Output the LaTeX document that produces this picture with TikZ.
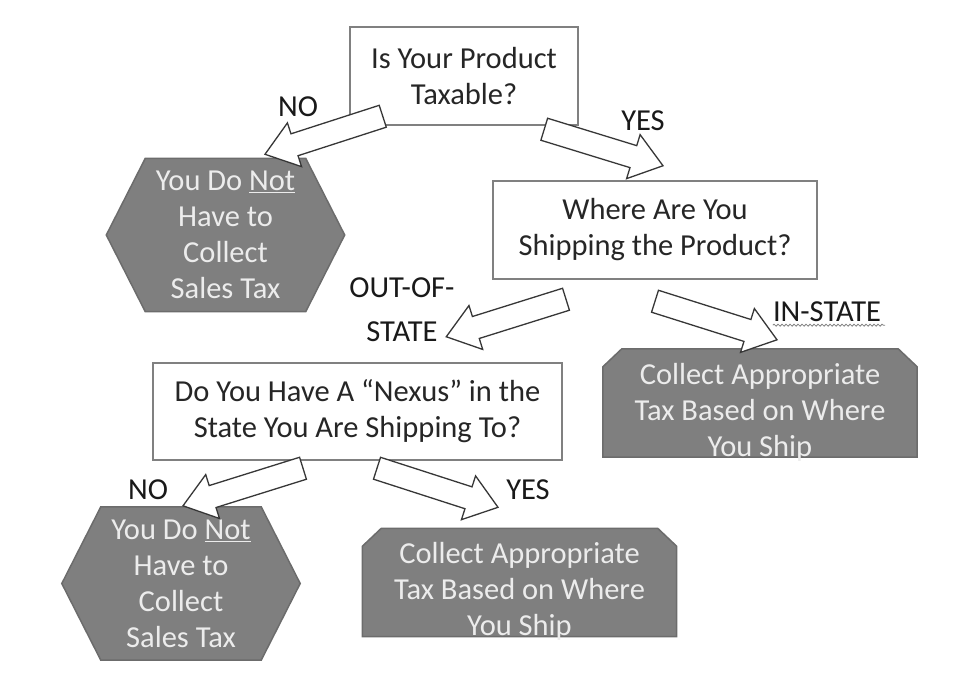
\documentclass[tikz,border=0pt]{standalone}
\usepackage{fontspec}
\setmainfont{Carlito}
\usepackage{tikz}
\usetikzlibrary{positioning,calc,backgrounds,decorations.pathmorphing}
\definecolor{grisborde}{RGB}{128,128,128}
\definecolor{grisrelleno}{RGB}{127,127,127}
\definecolor{grisoscuro}{RGB}{108,108,108}
\definecolor{grisclaro}{RGB}{236,236,236}
\definecolor{gristexto}{RGB}{38,38,38}
\definecolor{grisflecha}{RGB}{55,55,55}

\newcommand{\flechagorda}[2]{%
  \draw[flecha] let \p1=#1, \p2=#2,
    \n1={atan2(\y2-\y1,\x2-\x1)}, \n2={veclen(\x2-\x1,\y2-\y1)} in
    {[shift={(\p1)}, rotate=\n1]
    (0,-11.5) -- (\n2-31,-11.5) -- (\n2-31,-23) -- (\n2,0)
    -- (\n2-31,23) -- (\n2-31,11.5) -- (0,11.5) -- cycle};}

\begin{document}
\begin{tikzpicture}[x=1pt, y=1pt,
  base/.style={font=\fontsize{30.5}{36}\selectfont, align=center, inner sep=0pt},
  pregunta/.style={base, draw=grisborde, line width=2.5pt, fill=white,
                   text=gristexto},
  hexagono/.style={base, text=grisclaro, minimum width=238pt,
                   minimum height=153pt},
  resultado/.style={base, minimum width=314pt, minimum height=108pt},
  forma/.style={draw=grisoscuro, line width=1.5pt, fill=grisrelleno,
                line join=miter},
  textoclaro/.style={base, text=grisclaro},
  etiqueta/.style={base, text=black!90},
  flecha/.style={draw=grisflecha, fill=white, line width=1.3pt, line join=miter}]
  \useasboundingbox (0,0) rectangle (974,-675);

  \node[pregunta, minimum width=228pt, minimum height=98pt] (gravable) at (464,-76)
    {Is Your Product\\Taxable?};
  \node[pregunta, minimum width=324pt, minimum height=98pt] (envio) at (655,-230)
    {Where Are You\\Shipping the Product?};
  \node[pregunta, minimum width=409pt, minimum height=97pt] (nexo) at (357.5,-411.5)
    {Do You Have A “Nexus” in the\\State You Are Shipping To?};
  \node[hexagono] (nocobrar) at (225.5,-235)
    {You Do \underline{Not}\\Have to\\Collect\\Sales Tax};
  \node[hexagono] (nocobrardos) at (181,-583.5)
    {You Do \underline{Not}\\Have to\\Collect\\Sales Tax};
  \node[resultado, label={[textoclaro, yshift=-9pt]center:{Collect Appropriate\\
    Tax Based on Where\\You Ship}}] (estatal) at (760,-403) {};
  \node[resultado, label={[textoclaro, yshift=-9pt]center:{Collect Appropriate\\
    Tax Based on Where\\You Ship}}] (cobrar) at (519.5,-582.5) {};

  \begin{scope}[on background layer]
    \foreach \n in {nocobrar,nocobrardos}
      \draw[forma] (\n.west) -- ($(\n.north west)+(39,0)$)
        -- ($(\n.north east)+(-39,0)$) -- (\n.east)
        -- ($(\n.south east)+(-39,0)$) -- ($(\n.south west)+(39,0)$) -- cycle;
    \foreach \n in {estatal,cobrar}
      \draw[forma] ($(\n.north west)+(0,-18)$) -- ($(\n.north west)+(19,0)$)
        -- ($(\n.north east)+(-19,0)$) -- ($(\n.north east)+(0,-18)$)
        -- (\n.south east) -- (\n.south west) -- cycle;
  \end{scope}

  \node[etiqueta] (no1) at (298,-107) {NO};
  \node[etiqueta] (si1) at (643,-121) {YES};
  \node[etiqueta] (fuera) at (402,-310) {OUT-OF-\\[8pt]STATE};
  \node[etiqueta] (dentro) at (827,-312) {IN-STATE};
  \node[etiqueta] (no2) at (148,-490) {NO};
  \node[etiqueta] (si2) at (528,-490) {YES};
  \draw[decorate, decoration={snake, amplitude=1pt, segment length=4pt},
        draw=gray, line width=0.8pt]
    ($(dentro.south west)+(0,-3)$) -- ($(dentro.south east)+(4,-3)$);

  \flechagorda{($(gravable.south west)+(34,10)$)}{($(nocobrar.north)+(39.5,4)$)}
  \flechagorda{($(gravable.south east)+(-35,-3)$)}{($(envio.north)+(8,14)$)}
  \flechagorda{($(envio.south)+(-89,-19)$)}{($(nexo.north east)+(-117,25)$)}
  \flechagorda{($(envio.south)+(0,-21)$)}{($(estatal.north)+(17,9)$)}
  \flechagorda{($(nexo.south)+(-54.5,-7)$)}{($(nocobrardos.north)+(2,1)$)}
  \flechagorda{($(nexo.south)+(19.5,-7)$)}{($(cobrar.north)+(-21.5,21)$)}
\end{tikzpicture}
\end{document}
